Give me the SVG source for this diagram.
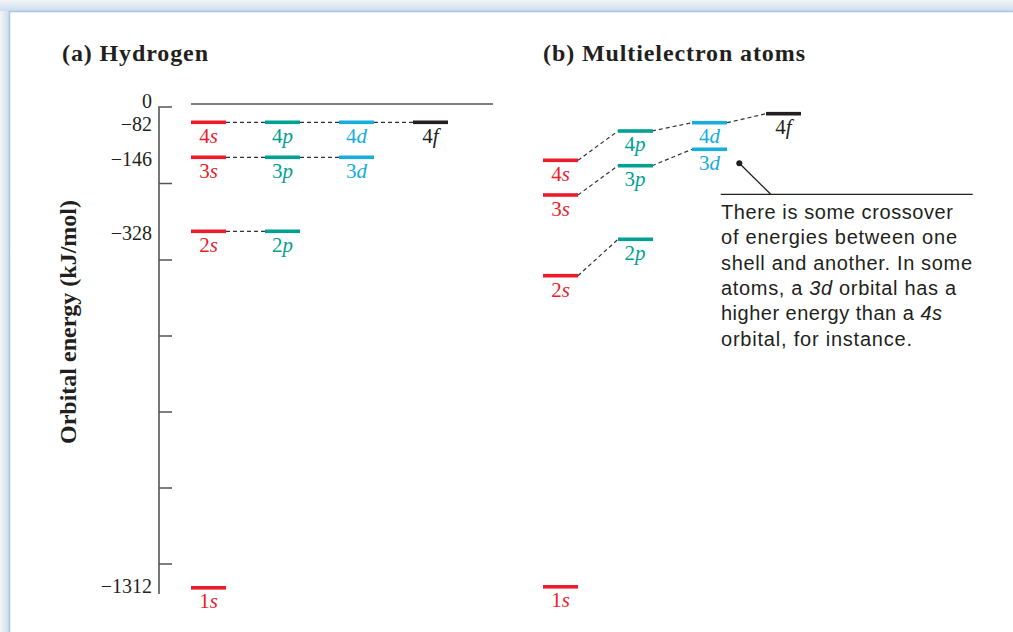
<svg xmlns="http://www.w3.org/2000/svg" width="1013" height="632" viewBox="0 0 1013 632">
<defs>
<linearGradient id="gTop" x1="0" y1="0" x2="0" y2="1"><stop offset="0" stop-color="#f3f5f8"/><stop offset="1" stop-color="#cddcee"/></linearGradient>
<linearGradient id="gLeft" x1="0" y1="0" x2="1" y2="0"><stop offset="0" stop-color="#f3f5f8"/><stop offset="1" stop-color="#cddcee"/></linearGradient>
<style>
.tick{font-family:"Liberation Serif",serif;font-size:20px;fill:#231f20;text-anchor:end;}
.lbl{font-family:"Liberation Serif",serif;font-size:21px;text-anchor:middle;}
.it{font-style:italic;}
.title{font-family:"Liberation Serif",serif;font-size:24px;font-weight:bold;fill:#231f20;}
.note{font-family:"Liberation Sans",Arial,sans-serif;font-size:20px;fill:#231f20;}
.red{fill:#ec1c2b;}
.teal{fill:#00a193;}
.blue{fill:#17addc;}
.blk{fill:#231f20;}
.dash{stroke:#333;stroke-width:1.2;stroke-dasharray:4 3;fill:none;}
.ax{stroke:#555;stroke-width:1.6;fill:none;}
</style>
</defs>
<rect x="0" y="0" width="1013" height="632" fill="#ffffff"/>
<rect x="0" y="0" width="1013" height="11" fill="url(#gTop)"/>
<rect x="0" y="11" width="9" height="621" fill="url(#gLeft)"/>
<path d="M9.5,632 V11.5 H1013" fill="none" stroke="#a6c6e6" stroke-width="1.5"/>

<g id="titles">
<text class="title" x="62" y="61" textLength="146">(a) Hydrogen</text>
<text class="title" x="543" y="61" textLength="262">(b) Multielectron atoms</text>
</g>

<g id="axis">
<path class="ax" d="M172,107 H159 V594"/>
<path class="ax" d="M159,183.5 H172 M159,260 H172 M159,336 H172 M159,412 H172 M159,488 H172 M159,564 H172"/>
<line x1="191" y1="104" x2="493" y2="104" stroke="#555" stroke-width="1.5"/>
<text class="tick" x="152" y="108">0</text>
<text class="tick" x="152" y="131">−82</text>
<text class="tick" x="152" y="166">−146</text>
<text class="tick" x="152" y="240">−328</text>
<text class="tick" x="152" y="593">−1312</text>
<text class="title" transform="translate(76,322) rotate(-90)" text-anchor="middle" font-size="22">Orbital energy (kJ/mol)</text>
</g>

<g id="connectors">
<path class="dash" d="M226,122.3 H265 M300,122.3 H339 M374,122.3 H413"/>
<path class="dash" d="M226,157.3 H265 M300,157.3 H339"/>
<path class="dash" d="M226,231.3 H265"/>
<path class="dash" d="M578,160.3 L618,131 M652,131 L692,122.7 M727,122.7 L766,113.7"/>
<path class="dash" d="M578,195 L618,165.7 M652,165.7 L692,149.3"/>
<path class="dash" d="M578,275.7 L618,239.3"/>
<line x1="739.3" y1="163.3" x2="770.7" y2="194.3" stroke="#231f20" stroke-width="1.3"/>
<circle cx="739.3" cy="163.3" r="3" fill="#231f20"/>
</g>

<g id="h-4s"><rect class="red" x="191" y="120.5" width="35" height="3.6"/><text class="lbl red" x="208.5" y="143">4<tspan class="it">s</tspan></text></g>
<g id="h-4p"><rect class="teal" x="265" y="120.5" width="35" height="3.6"/><text class="lbl teal" x="282.5" y="143">4<tspan class="it">p</tspan></text></g>
<g id="h-4d"><rect class="blue" x="339" y="120.5" width="35" height="3.6"/><text class="lbl blue" x="356.5" y="143">4<tspan class="it">d</tspan></text></g>
<g id="h-4f"><rect class="blk" x="413" y="120.5" width="35" height="3.6"/><text class="lbl blk" x="430.5" y="143">4<tspan class="it">f</tspan></text></g>
<g id="h-3s"><rect class="red" x="191" y="155.5" width="35" height="3.6"/><text class="lbl red" x="208.5" y="178">3<tspan class="it">s</tspan></text></g>
<g id="h-3p"><rect class="teal" x="265" y="155.5" width="35" height="3.6"/><text class="lbl teal" x="282.5" y="178">3<tspan class="it">p</tspan></text></g>
<g id="h-3d"><rect class="blue" x="339" y="155.5" width="35" height="3.6"/><text class="lbl blue" x="356.5" y="178">3<tspan class="it">d</tspan></text></g>
<g id="h-2s"><rect class="red" x="191" y="229.5" width="35" height="3.6"/><text class="lbl red" x="208.5" y="252">2<tspan class="it">s</tspan></text></g>
<g id="h-2p"><rect class="teal" x="265" y="229.5" width="35" height="3.6"/><text class="lbl teal" x="282.5" y="252">2<tspan class="it">p</tspan></text></g>
<g id="h-1s"><rect class="red" x="191" y="586" width="35" height="3.6"/><text class="lbl red" x="208.5" y="608">1<tspan class="it">s</tspan></text></g>

<g id="m-4s"><rect class="red" x="543" y="158.5" width="35" height="3.6"/><text class="lbl red" x="560.5" y="181">4<tspan class="it">s</tspan></text></g>
<g id="m-3s"><rect class="red" x="543" y="193.2" width="35" height="3.6"/><text class="lbl red" x="560.5" y="216">3<tspan class="it">s</tspan></text></g>
<g id="m-2s"><rect class="red" x="543" y="273.9" width="35" height="3.6"/><text class="lbl red" x="560.5" y="297">2<tspan class="it">s</tspan></text></g>
<g id="m-1s"><rect class="red" x="543" y="585" width="35" height="3.6"/><text class="lbl red" x="560.5" y="607">1<tspan class="it">s</tspan></text></g>
<g id="m-4p"><rect class="teal" x="618" y="129.2" width="35" height="3.6"/><text class="lbl teal" x="635" y="151">4<tspan class="it">p</tspan></text></g>
<g id="m-3p"><rect class="teal" x="618" y="163.9" width="35" height="3.6"/><text class="lbl teal" x="635" y="186">3<tspan class="it">p</tspan></text></g>
<g id="m-2p"><rect class="teal" x="618" y="237.5" width="35" height="3.6"/><text class="lbl teal" x="635" y="260">2<tspan class="it">p</tspan></text></g>
<g id="m-4d"><rect class="blue" x="692" y="120.9" width="35" height="3.6"/><text class="lbl blue" x="709.5" y="143">4<tspan class="it">d</tspan></text></g>
<g id="m-3d"><rect class="blue" x="692" y="147.5" width="35" height="3.6"/><text class="lbl blue" x="709.5" y="170">3<tspan class="it">d</tspan></text></g>
<g id="m-4f"><rect class="blk" x="766" y="111.9" width="35" height="3.6"/><text class="lbl blk" x="783.5" y="134">4<tspan class="it">f</tspan></text></g>

<g id="callout">
<line x1="720.7" y1="194.3" x2="972.7" y2="194.3" stroke="#231f20" stroke-width="1.3"/>
<text class="note" x="721" y="219" textLength="232">There is some crossover</text>
<text class="note" x="721" y="244.3" textLength="236">of energies between one</text>
<text class="note" x="721" y="269.6" textLength="251">shell and another. In some</text>
<text class="note" x="721" y="294.9" textLength="235">atoms, a <tspan font-style="italic">3d</tspan> orbital has a</text>
<text class="note" x="721" y="320.2" textLength="221">higher energy than a <tspan font-style="italic">4s</tspan></text>
<text class="note" x="721" y="345.5" textLength="191">orbital, for instance.</text>
</g>
</svg>
